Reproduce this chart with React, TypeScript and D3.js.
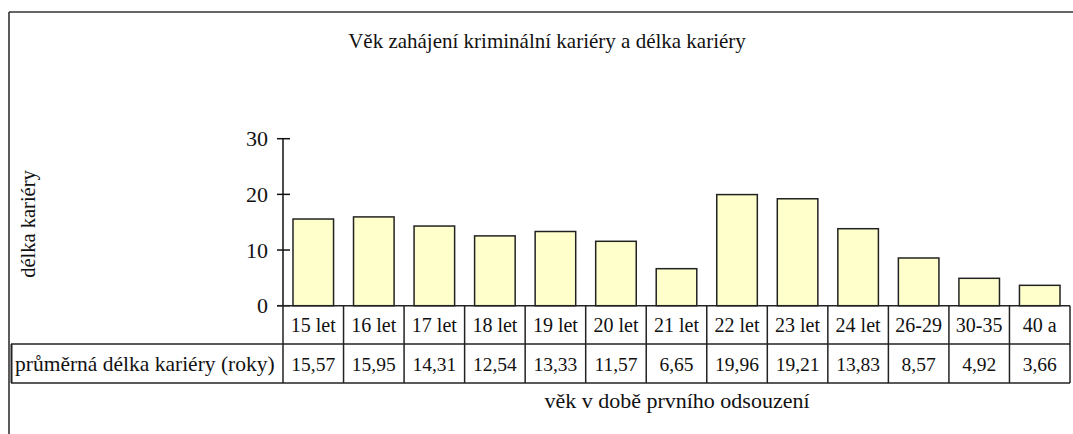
import React from "react";
import * as d3 from "d3";

const title = "Věk zahájení kriminální kariéry a délka kariéry";
const yTitle = "délka kariéry";
const xTitle = "věk v době prvního odsouzení";
const rowLabel = "průměrná délka kariéry (roky)";
const categories = ["15 let", "16 let", "17 let", "18 let", "19 let", "20 let", "21 let", "22 let", "23 let", "24 let", "26-29", "30-35", "40 a"];
const values = [15.57, 15.95, 14.31, 12.54, 13.33, 11.57, 6.65, 19.96, 19.21, 13.83, 8.57, 4.92, 3.66];
const valueLabels = ["15,57", "15,95", "14,31", "12,54", "13,33", "11,57", "6,65", "19,96", "19,21", "13,83", "8,57", "4,92", "3,66"];
const yTicks = [0, 10, 20, 30];

const W = 1073;
const H = 434;
const FONT = "Liberation Serif, DejaVu Serif, serif";

export default function App() {
  const left = 283;
  const right = 1070;
  const x = d3.scaleBand<string>().domain(categories).range([left, right]).paddingInner(0.33).paddingOuter(0.165);
  const y = d3.scaleLinear().domain([0, 30]).range([305.7, 138.7]);
  const step = x.step();
  const row1Top = y(0);
  const row1Bot = 344;
  const row2Bot = 383;
  const colStart = (c: string) => (x(c) as number) - (step - x.bandwidth()) / 2;

  return (
    <svg width={W} height={H} style={{ position: "absolute", left: 0, top: 0, background: "#fff", fontFamily: FONT }}>
      <rect x={0} y={0} width={W} height={H} fill="#fff" />
      {/* frame */}
      <line x1={9} y1={12} x2={W} y2={12} stroke="#333" strokeWidth={1.6} />
      <line x1={9} y1={12} x2={9} y2={H} stroke="#333" strokeWidth={1.6} />

      <text x={547} y={48} fontSize={21} textAnchor="middle" fill="#111">{title}</text>

      <text transform={`translate(35,224) rotate(-90)`} fontSize={20.5} textAnchor="middle" fill="#111">{yTitle}</text>

      {/* bars */}
      {categories.map((c, i) => (
        <rect key={c} x={x(c)} y={y(values[i])} width={x.bandwidth()} height={y(0) - y(values[i])}
          fill="#FFFFCC" stroke="#222" strokeWidth={1.5} />
      ))}

      {/* y axis */}
      <line x1={left} y1={y(30)} x2={left} y2={y(0)} stroke="#111" strokeWidth={1.5} />
      {yTicks.map((t) => (
        <g key={t}>
          <line x1={277} x2={290} y1={y(t)} y2={y(t)} stroke="#111" strokeWidth={1.5} />
          <text x={268} y={y(t)} dy="0.35em" fontSize={22} textAnchor="end" fill="#111">{t}</text>
        </g>
      ))}

      {/* table */}
      <line x1={277} x2={right} y1={row1Top} y2={row1Top} stroke="#222" strokeWidth={1.5} />
      <line x1={11} x2={right} y1={row1Bot} y2={row1Bot} stroke="#222" strokeWidth={1.5} />
      <line x1={11} x2={right} y1={row2Bot} y2={row2Bot} stroke="#222" strokeWidth={1.5} />
      <line x1={11.5} x2={11.5} y1={row1Bot} y2={row2Bot} stroke="#222" strokeWidth={2} />
      {categories.map((c) => (
        <line key={"v" + c} x1={colStart(c)} x2={colStart(c)} y1={row1Top} y2={row2Bot} stroke="#222" strokeWidth={1.5} />
      ))}
      <line x1={right} x2={right} y1={row1Top} y2={row2Bot} stroke="#222" strokeWidth={1.5} />
      {categories.map((c) => (
        <text key={"c" + c} x={colStart(c) + step / 2} y={332} fontSize={20} textAnchor="middle" fill="#111">{c}</text>
      ))}
      {categories.map((c, i) => (
        <text key={"t" + c} x={colStart(c) + step / 2} y={371} fontSize={19.5} textAnchor="middle" fill="#111">{valueLabels[i]}</text>
      ))}
      <text x={15} y={371} fontSize={21.5} fill="#111">{rowLabel}</text>

      <text x={677} y={408} fontSize={22} textAnchor="middle" fill="#111">{xTitle}</text>
    </svg>
  );
}
